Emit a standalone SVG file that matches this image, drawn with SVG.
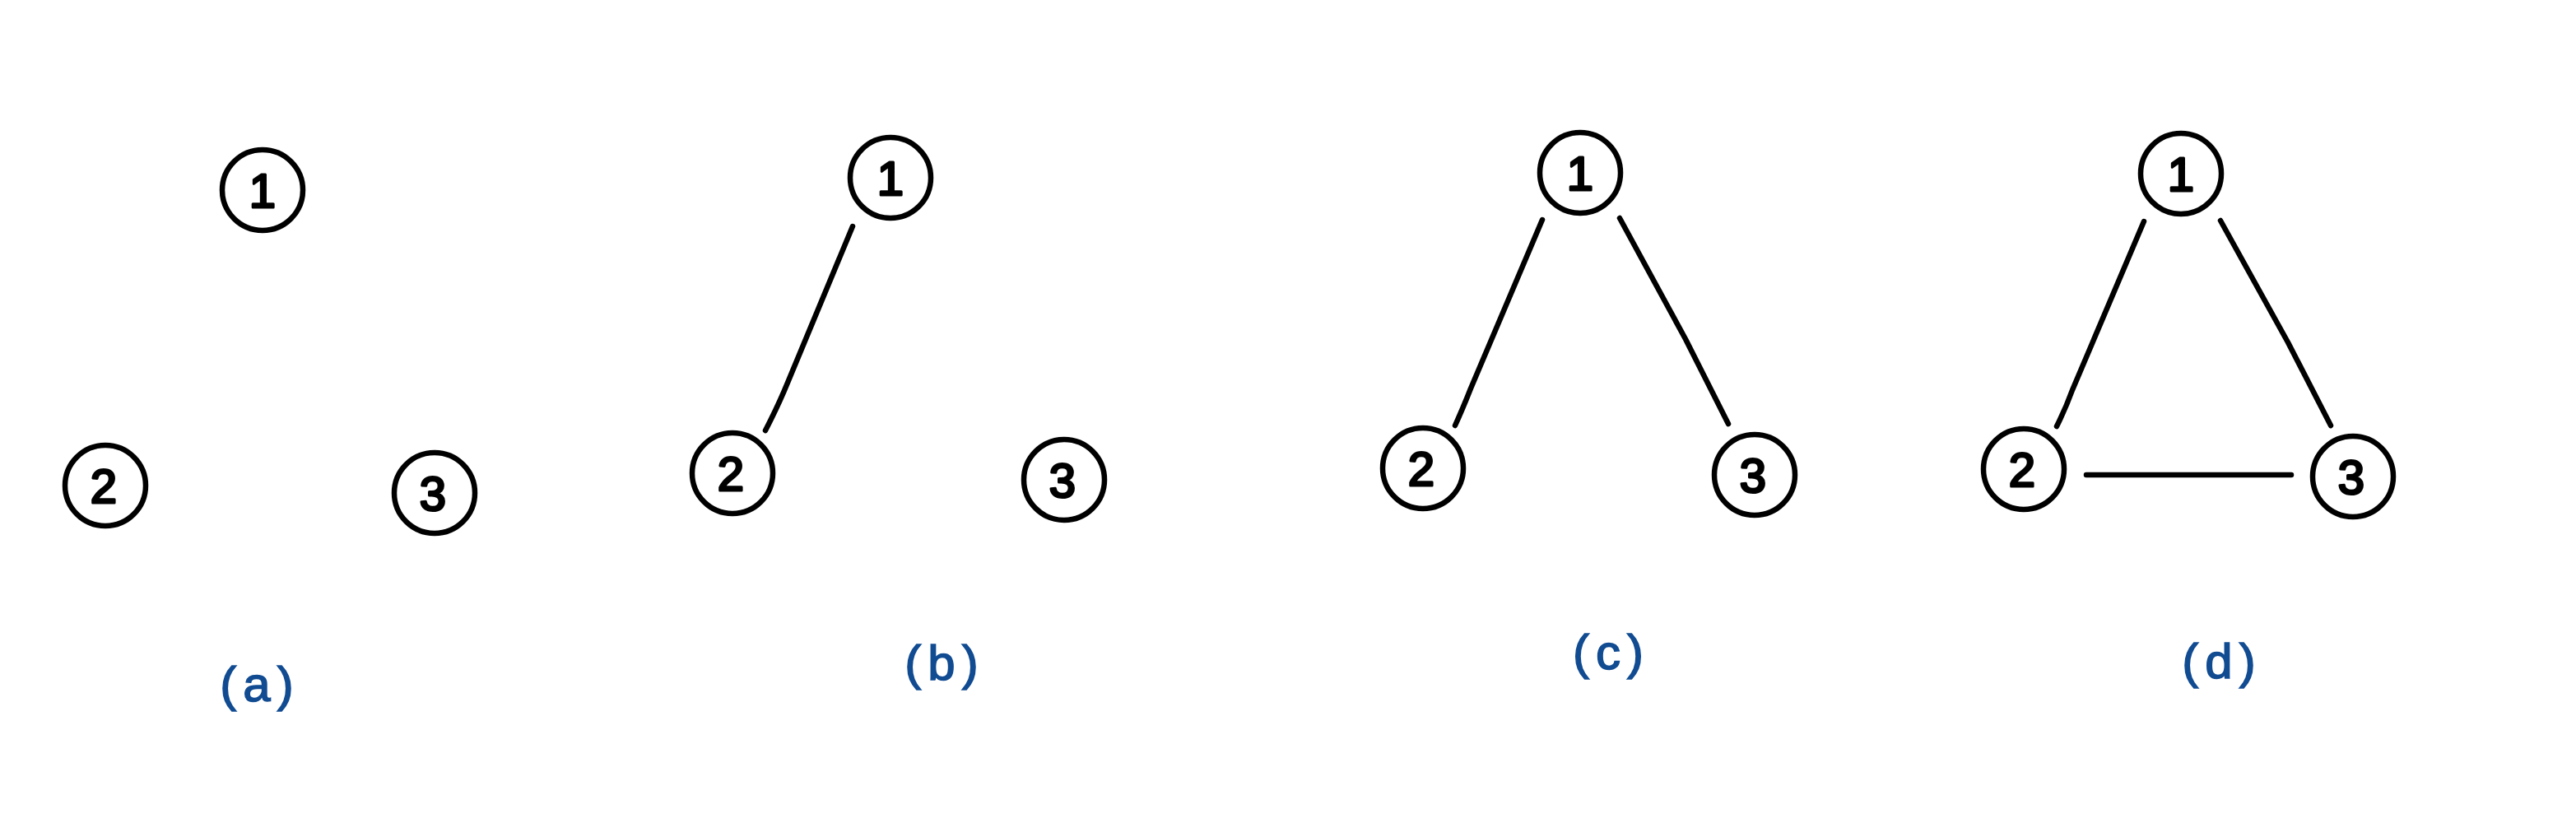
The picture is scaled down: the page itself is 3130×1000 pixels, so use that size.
<svg xmlns="http://www.w3.org/2000/svg" width="3130" height="1000" viewBox="0 0 3130 1000">
<style>
.node circle{fill:#fff;stroke:#000;stroke-width:6.5}
.node text{font-family:"Liberation Sans","DejaVu Sans",sans-serif;font-size:58px;text-anchor:middle;fill:#000;stroke:#000;stroke-width:3;stroke-linejoin:round}
.edge{fill:none;stroke:#000;stroke-width:6.5;stroke-linecap:round;stroke-linejoin:round}
.lbl{font-family:"Liberation Sans","DejaVu Sans",sans-serif;font-size:60px;fill:#114b91;stroke:#114b91;stroke-width:1.5;text-anchor:middle;letter-spacing:8px}
</style>
<rect width="3130" height="1000" fill="#fff"/>
<g id="connectors">
<path class="edge" d="M1036,275 L957,465 Q946,492 930,523"/>
<path class="edge" d="M1874,267 L1787,472 Q1778,495 1768,517"/>
<path class="edge" d="M1968,265 L2048,412 L2100,515"/>
<path class="edge" d="M2605,269 L2518,474 Q2510,496 2499,518"/>
<path class="edge" d="M2698,268 L2780,416 L2832,517"/>
<path class="edge" d="M2535,577 L2784,577"/>
</g>
<g id="a-n1" class="node"><circle cx="319" cy="231" r="49"/><text x="319" y="252">1</text></g>
<g id="a-n2" class="node"><circle cx="128" cy="590" r="49"/><text x="126" y="611">2</text></g>
<g id="a-n3" class="node"><circle cx="528" cy="599" r="49"/><text x="526" y="620">3</text></g>
<g id="b-n1" class="node"><circle cx="1082" cy="216" r="49"/><text x="1082" y="237">1</text></g>
<g id="b-n2" class="node"><circle cx="890" cy="575" r="49"/><text x="888" y="596">2</text></g>
<g id="b-n3" class="node"><circle cx="1293" cy="583" r="49"/><text x="1291" y="604">3</text></g>
<g id="c-n1" class="node"><circle cx="1920" cy="210" r="49"/><text x="1920" y="231">1</text></g>
<g id="c-n2" class="node"><circle cx="1729" cy="569" r="49"/><text x="1727" y="590">2</text></g>
<g id="c-n3" class="node"><circle cx="2132" cy="577" r="49"/><text x="2130" y="598">3</text></g>
<g id="d-n1" class="node"><circle cx="2650" cy="211" r="49"/><text x="2650" y="232">1</text></g>
<g id="d-n2" class="node"><circle cx="2459" cy="570" r="49"/><text x="2457" y="591">2</text></g>
<g id="d-n3" class="node"><circle cx="2859" cy="579" r="49"/><text x="2857" y="600">3</text></g>
<g id="labels">
<text class="lbl" x="316" y="852">(a)</text>
<text class="lbl" x="1148" y="826">(b)</text>
<text class="lbl" x="1958" y="813">(c)</text>
<text class="lbl" x="2700" y="824">(d)</text>
</g>
</svg>
